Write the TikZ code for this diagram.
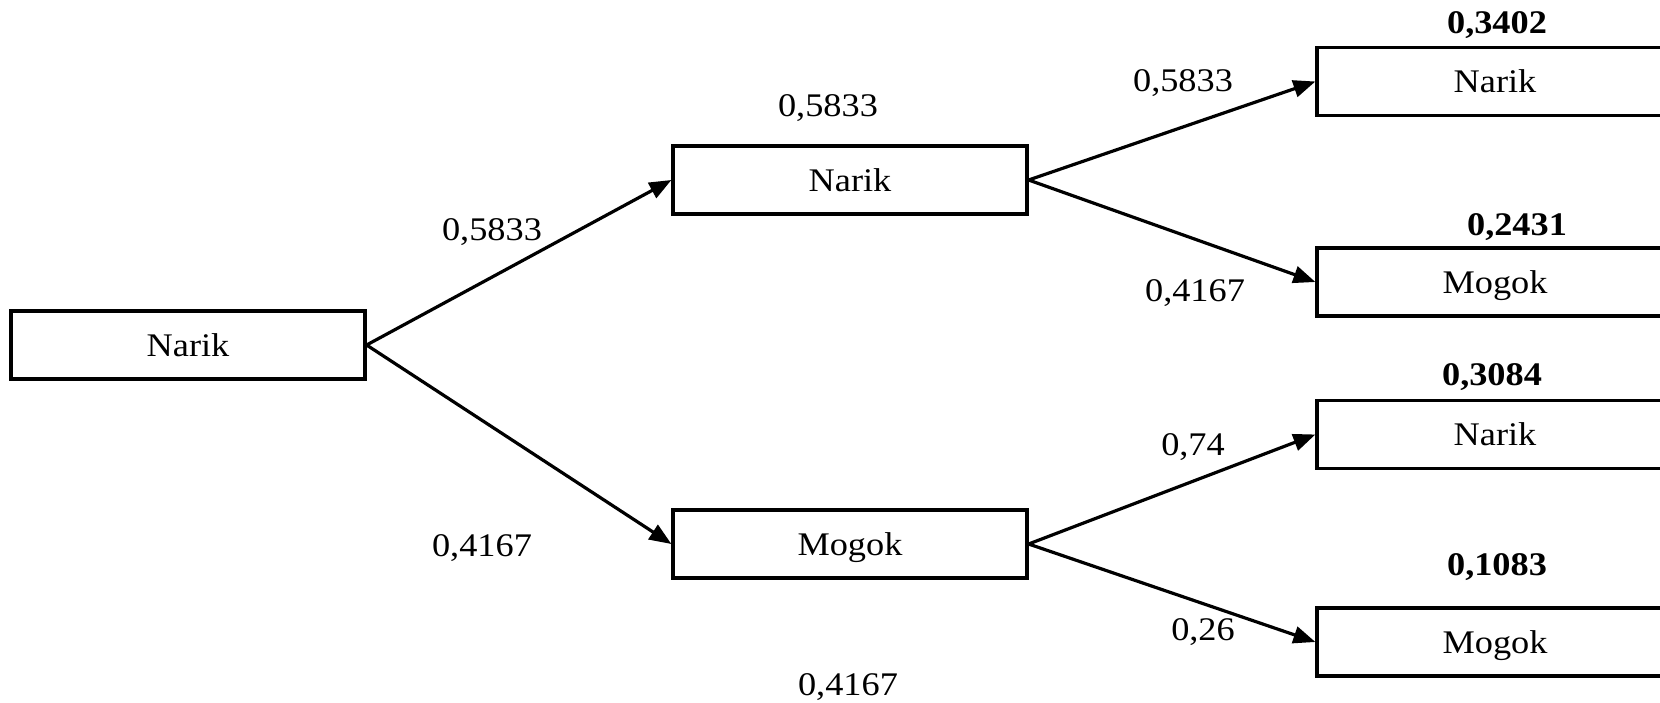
\documentclass[tikz,border=0pt]{standalone}
\usepackage{fontspec}
\setmainfont{Liberation Serif}[FakeStretch=1.1]
\usetikzlibrary{arrows.meta}
\begin{document}
\begin{tikzpicture}[x=1pt,y=-1pt,
  box/.style={draw, line width=3.2pt, minimum width=354pt, minimum height=68pt,
    inner sep=0pt, text height=22pt, text depth=0pt, font=\fontsize{33}{40}\selectfont},
  prob/.style={inner sep=0pt, font=\fontsize{33}{40}\selectfont},
  bprob/.style={inner sep=0pt, font=\fontsize{33}{40}\selectfont\bfseries},
  arr/.style={line width=3.2pt, -{Triangle[length=22pt,width=17pt]}}]
\clip (0,0) rectangle (1660,702);
\fill[white] (0,0) rectangle (1660,702);
% boxes
\node[box] (root) at (188,345) {Narik};
\node[box] (mN) at (850,180) {Narik};
\node[box] (mM) at (850,544) {Mogok};
\node[box, minimum width=356pt] (rNN) at (1495,81.5) {Narik};
\node[box, minimum width=356pt] (rNM) at (1495,282) {Mogok};
\node[box, minimum width=356pt] (rMN) at (1495,434.5) {Narik};
\node[box, minimum width=356pt] (rMM) at (1495,642) {Mogok};
% connectors
\draw[arr] (root.east) -- (mN.west);
\draw[arr] (root.east) -- (mM.west);
\draw[arr] (mN.east) -- (rNN.west);
\draw[arr] (mN.east) -- (rNM.west);
\draw[arr] (mM.east) -- (rMN.west);
\draw[arr] (mM.east) -- (rMM.west);
% probability labels
\node[prob] (l1) at (492,232) {0,5833};
\node[prob] (l2) at (482,548) {0,4167};
\node[prob] (l3) at (828,108) {0,5833};
\node[prob] (l4) at (848,687) {0,4167};
\node[prob] (l5) at (1183,83) {0,5833};
\node[prob] (l6) at (1195,293) {0,4167};
\node[prob] (l7) at (1193,447) {0,74};
\node[prob] (l8) at (1203,632) {0,26};
% joint probabilities
\node[bprob] (j1) at (1497,25) {0,3402};
\node[bprob] (j2) at (1517,227) {0,2431};
\node[bprob] (j3) at (1492,377) {0,3084};
\node[bprob] (j4) at (1497,567) {0,1083};
\end{tikzpicture}
\end{document}
